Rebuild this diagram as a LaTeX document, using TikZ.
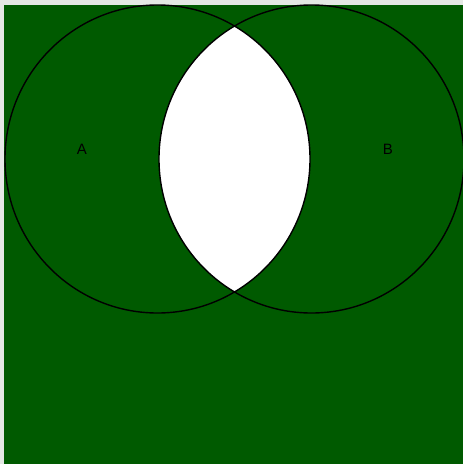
\documentclass[tikz,border=0pt]{standalone}
\usepackage{fontspec}
\setmainfont{Liberation Sans}
\definecolor{venngreen}{RGB}{0,90,0}
\definecolor{paleedge}{RGB}{228,232,228}

\begin{document}
\begin{tikzpicture}[
    x=1pt, y=-1pt,
    setcircle/.style={
        draw=black,
        line width=1.4pt
    },
    setlabel/.style={
        font=\fontsize{15}{18}\selectfont,
        text=black,
        inner sep=0pt
    }
]

    % 1. Frame and green universe
    \useasboundingbox (0,0) rectangle (463,464);
    \fill[paleedge] (0,0) rectangle (463,464);
    \fill[venngreen] (4,5) rectangle (463,464);

    % 2. Intersection of the two sets
    \begin{scope}
        \clip (157.5,159) ellipse[x radius=152.5pt, y radius=154pt];
        \fill[white] (311.5,159) ellipse[x radius=152.5pt, y radius=154pt];
    \end{scope}

    % 3. Set outlines
    \draw[setcircle] (157.5,159) ellipse[x radius=152.5pt, y radius=154pt];
    \draw[setcircle] (311.5,159) ellipse[x radius=152.5pt, y radius=154pt];

    % Labels
    \node[setlabel] (labA) at (82,149) {A};
    \node[setlabel] (labB) at (388,149) {B};

\end{tikzpicture}
\end{document}
